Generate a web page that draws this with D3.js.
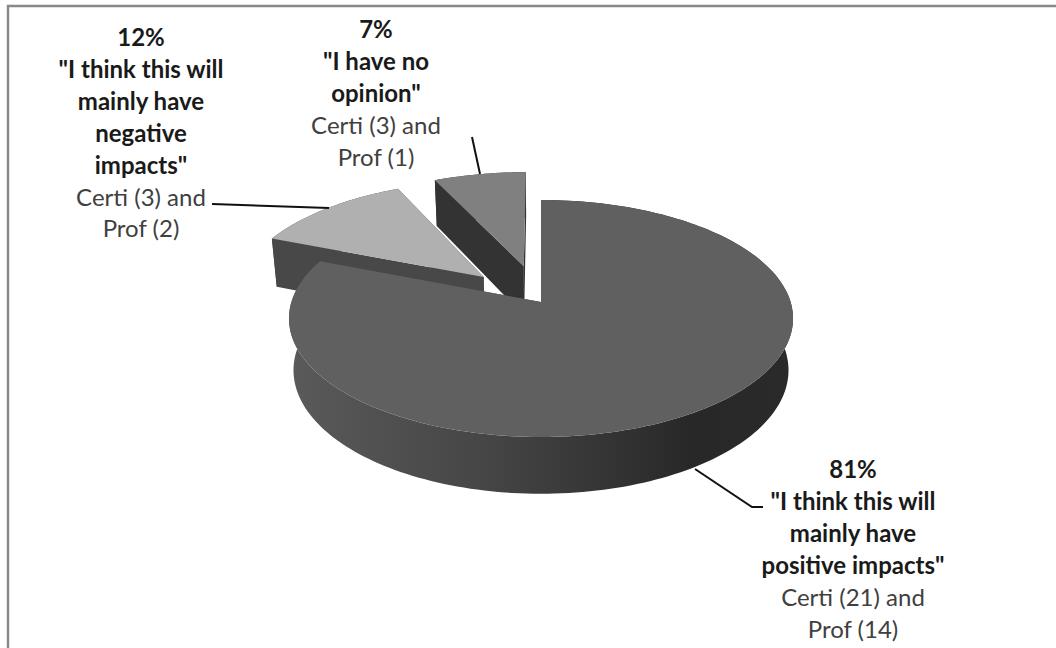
<!DOCTYPE html>
<html><head><meta charset="utf-8">
<script src="https://cdn.jsdelivr.net/npm/d3@7"></script>
<style>html,body{margin:0;padding:0;background:#fff}svg{display:block}text{font-family:Lato,"Open Sans",sans-serif;font-size:24px;text-anchor:middle}</style>
</head><body><svg id="c" width="1056" height="648"></svg>
<script>
const categories = ["positive","negative","none"];
const shares = [81, 12, 7];
const percentLabels = ["81%","12%","7%"];
const quoteLines = [
  ['"I think this will','mainly have','positive impacts"'],
  ['"I think this will','mainly have','negative','impacts"'],
  ['"I have no','opinion"']
];
const countLines = [
  ['Certi (21) and','Prof (14)'],
  ['Certi (3) and','Prof (2)'],
  ['Certi (3) and','Prof (1)']
];
const explode = [0, 0.325, 0.33];
const topColors = ["#606060","#b0b0b0","#808080"];
const radialColors = ["#4a4a4a","#484848","#333333"];
const labelX = [853, 141, 376];
const labelY = [478, 46, 38];
const lineStep = 31.9;
const leaders = [
  [[695,469],[752,507],[763,507]],
  [[212,204],[329,208]],
  [[472,137],[480,174]]
];

const svg = d3.select("#c");
const cx=541, cy=302, R=249.6, A=116.2, K=0.139, D=51, SHR=0.018;
const xS = d3.scaleLinear().domain([-1,1]).range([cx-R,cx+R]);
const yS = d3.scaleLinear().domain([-1,1]).range([cy+A,cy-A]);
function proj(u,v,h){
  const s=1/(1+K*v), sh=1-SHR*h;
  return [xS(u*s*sh), yS(v*s*sh)+h*D*s];
}
const pie = d3.pie().sort(null).value(d=>d).startAngle(0).endAngle(2*Math.PI);
const arcs = pie(shares);
const line = d3.line();

const defs = svg.append("defs");
const grad = defs.append("linearGradient").attr("id","wall").attr("gradientUnits","userSpaceOnUse")
  .attr("x1",289).attr("x2",793).attr("y1",0).attr("y2",0);
[[0,"#5a5a5a"],[0.4,"#454545"],[0.8,"#282828"],[1,"#2a2a2a"]].forEach(([o,c])=>grad.append("stop").attr("offset",o).attr("stop-color",c));

svg.append("path").attr("d",line([[8,648],[8,6],[1056,6]]))
  .attr("fill","none").attr("stroke","#888").attr("stroke-width",2.4);

function slicePts(a,i){
  const mid=(a.startAngle+a.endAngle)/2, e=explode[i];
  const ox=e*Math.sin(mid), oy=e*Math.cos(mid);
  const n=Math.max(8,Math.round((a.endAngle-a.startAngle)*40));
  const rim=d3.range(n+1).map(j=>{
    const t=a.startAngle+(a.endAngle-a.startAngle)*j/n;
    return [ox+Math.sin(t), oy+Math.cos(t)];
  });
  return {rim,apex:[ox,oy]};
}
// draw back slices first, the large slice last
[2,1,0].forEach(i=>{
  const {rim,apex}=slicePts(arcs[i],i);
  const P=(p,h)=>proj(p[0],p[1],h);
  const g=svg.append("g").attr("class","slice-"+categories[i]);
  g.append("path").attr("d",line(rim.map(p=>P(p,0)).concat(rim.slice().reverse().map(p=>P(p,1))))+"Z")
   .attr("fill",i===0?"url(#wall)":radialColors[i]);
  [rim[0],rim[rim.length-1]].forEach(r=>{
    g.append("path").attr("d",line([P(apex,0),P(r,0),P(r,1),P(apex,1)])+"Z").attr("fill",radialColors[i]);
  });
  g.append("path").attr("d",line([P(apex,0)].concat(rim.map(p=>P(p,0))))+"Z").attr("fill",topColors[i]);
});

leaders.forEach(l=>svg.append("path").attr("d",line(l)).attr("fill","none").attr("stroke","#111").attr("stroke-width",2));

categories.forEach((c,i)=>{
  const t=svg.append("text").attr("x",labelX[i]).attr("y",labelY[i]);
  const rows=[[percentLabels[i],true]].concat(quoteLines[i].map(s=>[s,true]),countLines[i].map(s=>[s,false]));
  rows.forEach((r,j)=>t.append("tspan").attr("x",labelX[i]).attr("y",labelY[i]+j*lineStep)
    .attr("font-weight",r[1]?700:400).attr("fill",r[1]?"#1a1a1a":"#404040").text(r[0]));
});
</script></body></html>
